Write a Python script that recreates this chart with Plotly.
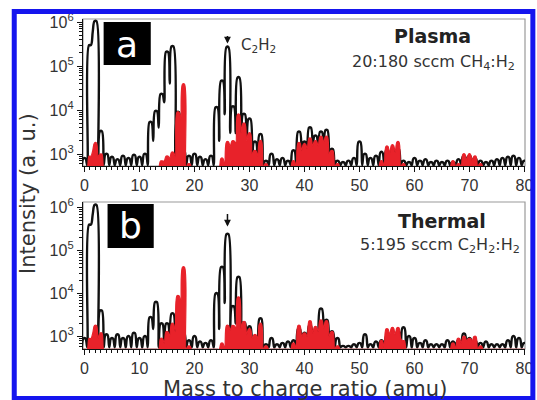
import plotly.graph_objects as go

# ---------------------------------------------------------------- data
mass = list(range(81))  # m/z, amu

# peak intensity at each integer mass (a. u.)
plasma_black = [
    800, 3.0e5, 1.05e6, 3300, 1000, 850, 750, 900, 800, 950,
    850, 1000, 5300, 9500, 2.3e4, 2.1e5, 2.8e5, 9000, 1200, 900,
    1000, 850, 750, 900, 1.15e4, 4.6e4, 2.7e5, 1.2e4, 5.5e4, 8100,
    6300, 1900, 2800, 700, 1000, 750, 800, 700, 1200, 3200,
    1900, 4000, 2600, 3200, 3500, 1300, 700, 650, 700, 800,
    1900, 1000, 800, 900, 1100, 1200, 1300, 1300, 700, 650,
    800, 700, 750, 650, 700, 650, 700, 650, 750, 900,
    900, 800, 700, 650, 700, 750, 800, 850, 900, 800,
    700,
]
plasma_red = [
    500, 900, 1800, 1000, 500, 500, 500, 500, 500, 500,
    500, 500, 500, 500, 700, 900, 1100, 9000, 3.9e4, 600,
    500, 500, 500, 500, 500, 800, 1900, 2000, 8000, 5000,
    3000, 1200, 2000, 600, 500, 500, 500, 500, 700, 1800,
    1700, 2300, 2000, 2500, 2500, 1200, 600, 500, 500, 500,
    500, 500, 500, 500, 700, 1500, 1600, 1900, 600, 500,
    500, 500, 500, 500, 500, 500, 500, 700, 600, 1000,
    1000, 900, 600, 500, 500, 500, 500, 500, 500, 500,
    500,
]
thermal_black = [
    900, 4.0e5, 1.15e6, 4000, 1100, 900, 1100, 900, 1000, 1200,
    900, 1000, 2800, 6300, 2000, 2000, 3400, 1500, 1200, 800,
    1000, 750, 700, 800, 1.0e4, 4.1e4, 2.4e5, 5000, 2.4e4, 2100,
    1700, 900, 2600, 650, 900, 650, 700, 750, 800, 1500,
    1200, 1800, 1400, 4400, 2400, 1300, 900, 600, 600, 650,
    700, 1100, 650, 750, 800, 1000, 1100, 1300, 1600, 1000,
    900, 700, 800, 650, 650, 650, 800, 750, 800, 1150,
    900, 800, 700, 750, 650, 650, 650, 800, 1000, 900,
    700,
]
thermal_red = [
    500, 900, 1800, 1200, 500, 500, 500, 500, 500, 500,
    500, 500, 500, 500, 900, 1300, 2000, 8900, 4.1e4, 600,
    500, 500, 500, 500, 500, 700, 1800, 1800, 8200, 2200,
    1500, 1100, 2000, 600, 500, 500, 500, 500, 700, 1800,
    1200, 2300, 1700, 2400, 2300, 1300, 600, 500, 500, 500,
    500, 500, 500, 500, 800, 1500, 1600, 1600, 800, 500,
    500, 500, 500, 500, 500, 500, 500, 700, 900, 1000,
    900, 1000, 600, 500, 500, 500, 500, 500, 500, 500,
    500,
]

# signal level between neighbouring masses; anything not listed sits at the baseline
black_baseline = 560
red_baseline = 500
plasma_black_between = {1.5: 6.0e5, 12.5: 2000, 13.5: 4000, 14.5: 1.5e4, 15.5: 4.0e4,
                        24.5: 2000, 25.5: 8000, 26.5: 3000, 27.5: 3000, 28.5: 2000, 29.5: 2500}
plasma_red_between = {1.5: 1200, 2.5: 900, 14.5: 700, 15.5: 800, 16.5: 900, 17.5: 6000,
                      26.5: 1500, 27.5: 1800, 28.5: 3000, 29.5: 2000, 30.5: 1000, 31.5: 900,
                      39.5: 1200, 40.5: 1300, 41.5: 1500, 42.5: 1500, 43.5: 1800, 44.5: 1000,
                      55.5: 1000, 56.5: 1100, 69.5: 700, 70.5: 700}
thermal_black_between = {1.5: 7.0e5, 12.5: 1500, 24.5: 1500, 25.5: 6000, 27.5: 2000}
thermal_red_between = {1.5: 1200, 2.5: 900, 14.5: 700, 15.5: 1000, 16.5: 1300, 17.5: 6000,
                       26.5: 1400, 27.5: 1600, 28.5: 1500, 29.5: 1100, 30.5: 900, 31.5: 900,
                       39.5: 1000, 40.5: 1000, 41.5: 1200, 42.5: 1300, 43.5: 1500, 44.5: 1000,
                       55.5: 1100, 56.5: 1100, 57.5: 900, 68.5: 700, 69.5: 800, 70.5: 800}

x_tick_values = [0, 10, 20, 30, 40, 50, 60, 70, 80]
y_tick_values = [1e3, 1e4, 1e5, 1e6]
y_tick_text = ["10<sup>3</sup>", "10<sup>4</sup>", "10<sup>5</sup>", "10<sup>6</sup>"]

# half width (amu) of the rounded top drawn for each peak
PEAK_TOP = 0.18


def spectrum(peaks, between, base):
    """Trace of a peaked mass spectrum: one rounded maximum per integer mass."""
    xs, ys = [], []
    for m, h in zip(mass, peaks):
        xs += [m - 0.5, m - PEAK_TOP, m + PEAK_TOP]
        ys += [between.get(m - 0.5, base), h, h]
    xs.append(mass[-1] + 0.5)
    ys.append(between.get(mass[-1] + 0.5, base))
    return xs, ys


# ---------------------------------------------------------------- layout helpers
W, H = 537, 400
ML, MR, MT, MB = 83, 4, 19, 51


def px(x):
    return (x - ML) / (W - ML - MR)


def py(y):
    return (H - MB - y) / (H - MT - MB)


BLACK = "#111111"
RED = "#e8222a"
TXT = "#333333"
SANS = "DejaVu Sans"
TICKFONT = "Liberation Sans, Arial, sans-serif"

fig = go.Figure()

panels = [
    ("x", "y", plasma_black, plasma_black_between, plasma_red, plasma_red_between),
    ("x2", "y2", thermal_black, thermal_black_between, thermal_red, thermal_red_between),
]
for xa, ya, blk, blk_b, red, red_b in panels:
    bx, by = spectrum(blk, blk_b, black_baseline)
    fig.add_trace(go.Scatter(x=bx, y=by, mode="lines", xaxis=xa, yaxis=ya,
                             line=dict(color=BLACK, width=2.4, shape="spline", smoothing=1),
                             hoverinfo="skip"))
    rx, ry = spectrum(red, red_b, red_baseline)
    fig.add_trace(go.Scatter(x=rx, y=ry, mode="lines", xaxis=xa, yaxis=ya,
                             fill="toself", fillcolor=RED,
                             line=dict(color=RED, width=1.2, shape="spline", smoothing=1),
                             hoverinfo="skip"))

xaxis_style = dict(
    range=[-0.27, 80.1], tickvals=x_tick_values, ticks="outside", ticklen=5,
    tickwidth=1.2, tickcolor=BLACK, showline=True, linecolor=BLACK, linewidth=1.3,
    minor=dict(dtick=1, tick0=0, ticks="outside", ticklen=3, tickcolor=BLACK, tickwidth=1),
    tickfont=dict(family=TICKFONT, size=16, color=TXT), ticklabeloverflow="allow",
    showgrid=False, zeroline=False,
)
yaxis_style = dict(
    type="log", tickvals=y_tick_values, ticktext=y_tick_text, ticks="outside",
    ticklen=5, tickwidth=1.2, tickcolor=BLACK, showline=True, linecolor=BLACK,
    linewidth=1.3,
    minor=dict(dtick="D1", ticks="outside", ticklen=3, tickcolor=BLACK, tickwidth=1),
    tickfont=dict(family=TICKFONT, size=16, color=TXT),
    showgrid=False, zeroline=False,
)

fig.update_layout(
    width=W, height=H,
    margin=dict(l=ML, r=MR, t=MT, b=MB),
    paper_bgcolor="white", plot_bgcolor="white",
    showlegend=False,
    xaxis=dict(**xaxis_style, domain=[0, 1], anchor="y"),
    yaxis=dict(**yaxis_style, domain=[py(166), 1], anchor="x", range=[2.73, 6.07]),
    xaxis2=dict(**xaxis_style, domain=[0, 1], anchor="y2"),
    yaxis2=dict(**yaxis_style, domain=[0, py(202)], anchor="x2", range=[2.71, 6.13]),
)

shapes = []
# thin grey frame around each panel
for xa, ya in [("x", "y"), ("x2", "y2")]:
    shapes.append(dict(type="rect", xref=f"{xa} domain", yref=f"{ya} domain",
                       x0=0, x1=1, y0=0, y1=1, line=dict(color="#9a9a9a", width=1.2),
                       layer="below"))
# panel letter boxes
shapes.append(dict(type="rect", xref="paper", yref="paper",
                   x0=px(104), x1=px(152), y0=py(65), y1=py(22),
                   fillcolor="black", line=dict(width=0)))
shapes.append(dict(type="rect", xref="paper", yref="paper",
                   x0=px(108), x1=px(155), y0=py(248), y1=py(204),
                   fillcolor="black", line=dict(width=0)))
# blue outer border
shapes.append(dict(type="rect", xref="paper", yref="paper",
                   x0=px(13), x1=px(541), y0=py(398.5), y1=py(11.5),
                   line=dict(color="#1515ee", width=5)))
fig.update_layout(shapes=shapes)

annotations = [
    dict(text="a", x=px(128), y=py(45), font=dict(family=SANS, size=36, color="white")),
    dict(text="b", x=px(131.5), y=py(226), font=dict(family=SANS, size=36, color="white")),
    dict(text="<b>Plasma</b>", x=px(439), y=py(36), font=dict(family=SANS, size=19, color="#222")),
    dict(text="20:180 sccm CH<sub>4</sub>:H<sub>2</sub>", x=px(525), y=py(63), xanchor="right",
         font=dict(family=SANS, size=16, color=TXT)),
    dict(text="<b>Thermal</b>", x=px(448), y=py(221), font=dict(family=SANS, size=19, color="#222")),
    dict(text="5:195 sccm C<sub>2</sub>H<sub>2</sub>:H<sub>2</sub>", x=px(530), y=py(245),
         xanchor="right", font=dict(family=SANS, size=16, color=TXT)),
    dict(text="C<sub>2</sub>H<sub>2</sub>", x=px(242), y=py(46), xanchor="left",
         font=dict(family=SANS, size=15, color=TXT)),
    dict(text="Mass to charge ratio (amu)", x=px(309), y=py(389),
         font=dict(family=SANS, size=21, color=TXT)),
    dict(text="Intensity (a. u.)", x=px(27), y=py(193), textangle=-90,
         font=dict(family=SANS, size=21, color=TXT)),
]
for a in annotations:
    a.setdefault("xref", "paper")
    a.setdefault("yref", "paper")
    a.setdefault("xanchor", "center")
    a.setdefault("yanchor", "middle")
    a.setdefault("showarrow", False)

# arrows marking the C2H2 peak (m/z 26)
annotations.append(dict(text="", xref="x", x=26, yref="paper", y=py(43.5), ax=0, ay=-9,
                        showarrow=True, arrowhead=2, arrowsize=0.9, arrowwidth=1.5,
                        arrowcolor=BLACK))
annotations.append(dict(text="", xref="x2", x=26, yref="paper", y=py(226.5), ax=0, ay=-14,
                        showarrow=True, arrowhead=2, arrowsize=0.9, arrowwidth=1.5,
                        arrowcolor=BLACK))
fig.update_layout(annotations=annotations)

fig.write_html("out.html")
